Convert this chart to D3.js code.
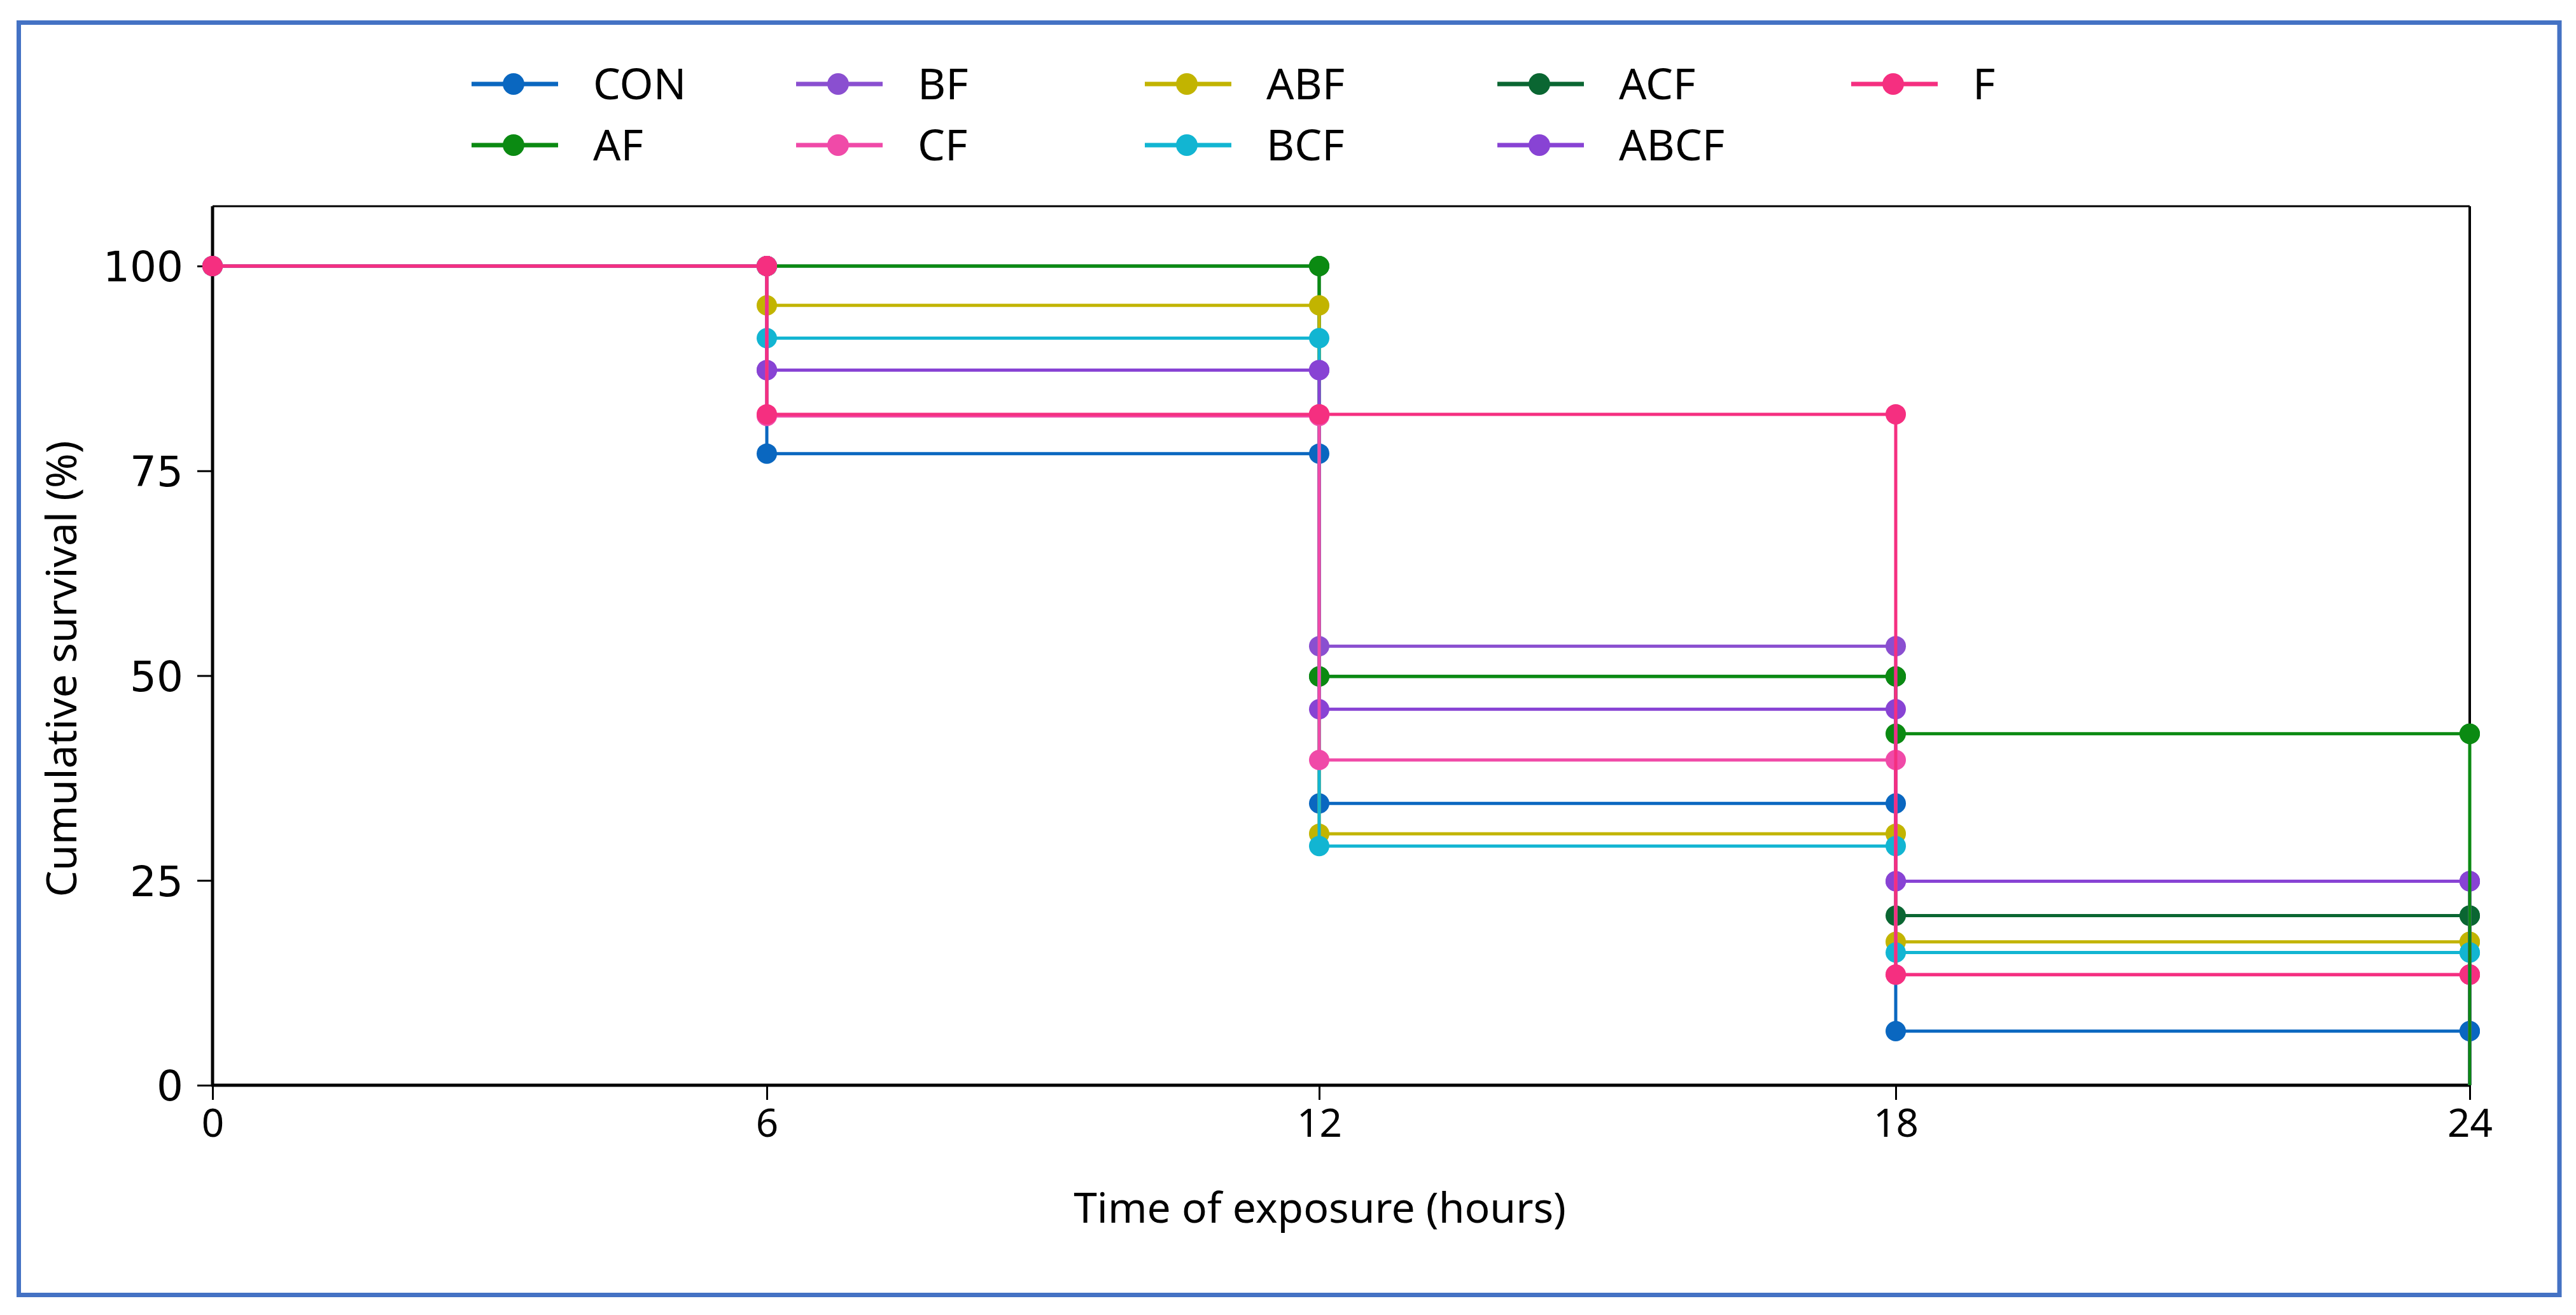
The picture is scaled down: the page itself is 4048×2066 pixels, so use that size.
<!DOCTYPE html>
<html>
<head>
<meta charset="utf-8">
<script src="https://cdn.jsdelivr.net/npm/d3@7"></script>
<style>
  body { margin: 0; background: #fff; }
  svg { display: block; }
</style>
</head>
<body>
<svg id="chart"></svg>
<script>
// sampling times (hours) and axis ticks
let times = [0, 6, 12, 18, 24];
let xTicks = [0, 6, 12, 18, 24];
let yTicks = [0, 25, 50, 75, 100];

// treatments in legend order, with their colours
let groups = ["CON", "AF", "BF", "CF", "ABF", "BCF", "ACF", "ABCF", "F"];
let colors = ["#0a67c0", "#0b8a12", "#8a4fd0", "#f04aa8", "#c2b400", "#12b5d2", "#0a6632", "#8843d4", "#f52f80"];

// cumulative survival (%) at each time
let CON  = [100, 77.1, 34.4, 6.6, 6.6];
let AF   = [100, 100, 49.9, 42.9, 42.9];
let BF   = [100, 87.3, 53.6, 24.9, 24.9];
let CF   = [100, 81.7, 39.7, 13.5, 13.5];
let ABF  = [100, 95.2, 30.7, 17.5, 17.5];
let BCF  = [100, 91.2, 29.2, 16.2, 16.2];
let ACF  = [100, 100, 49.9, 20.7, 20.7];
let ABCF = [100, 87.3, 45.9, 24.9, 24.9];
let F    = [100, 81.9, 81.9, 13.5, 13.5];

let values = { CON, AF, BF, CF, ABF, BCF, ACF, ABCF, F };
// which lines end up on top in the figure
let drawOrder = ["ACF", "CON", "AF", "BF", "ABF", "BCF", "ABCF", "CF", "F"];

let width = 4048, height = 2066;
let plotLeft = 334, plotRight = 3881, plotTop = 324, plotBottom = 1705;

let svg = d3.select("#chart").attr("width", width).attr("height", height);

svg.append("rect")
  .attr("x", 29.5).attr("y", 35.5)
  .attr("width", 3992.5).attr("height", 1999)
  .attr("fill", "#fff")
  .attr("stroke", "#4472c4")
  .attr("stroke-width", 7);

// the figure's hour ticks are not evenly spaced, so map them piecewise
let x = d3.scaleLinear()
  .domain(xTicks)
  .range([plotLeft, 1205, 2073, 2979, plotRight]);

let y = d3.scaleLinear()
  .domain([0, 107.3])
  .range([plotBottom, plotTop]);

let color = d3.scaleOrdinal().domain(groups).range(colors);

// axes
let xAxis = svg.append("g")
  .attr("transform", "translate(0," + plotBottom + ")")
  .call(d3.axisBottom(x).tickValues(xTicks).tickSize(23).tickPadding(14).tickFormat(d3.format("d")));
xAxis.select(".domain").remove();
xAxis.selectAll(".tick line").attr("stroke", "#000").attr("stroke-width", 3);
xAxis.selectAll(".tick text")
  .attr("fill", "#000")
  .style("font-family", "'Noto Sans', sans-serif")
  .style("font-size", "62px");

let yAxis = svg.append("g")
  .attr("transform", "translate(" + plotLeft + ",0)")
  .call(d3.axisLeft(y).tickValues(yTicks).tickSize(24).tickPadding(22));
yAxis.select(".domain").remove();
yAxis.selectAll(".tick line").attr("stroke", "#000").attr("stroke-width", 3);
yAxis.selectAll(".tick text")
  .attr("fill", "#000")
  .attr("dy", "0.36em")
  .style("font-family", "'DejaVu Sans', sans-serif")
  .style("font-size", "66px");

// frame (under the lines, as in the figure)
let frame = svg.append("g").attr("fill", "none").attr("stroke", "#000");
frame.append("line").attr("x1", plotLeft).attr("x2", plotRight).attr("y1", plotTop).attr("y2", plotTop).attr("stroke-width", 3);
frame.append("line").attr("x1", plotRight).attr("x2", plotRight).attr("y1", plotTop).attr("y2", plotBottom).attr("stroke-width", 4);
frame.append("line").attr("x1", plotLeft).attr("x2", plotLeft).attr("y1", plotTop).attr("y2", plotBottom + 2).attr("stroke-width", 5);
frame.append("line").attr("x1", plotLeft - 2).attr("x2", plotRight + 2).attr("y1", plotBottom).attr("y2", plotBottom).attr("stroke-width", 5);

// series lines
let line = d3.line()
  .curve(d3.curveStepAfter)
  .x(d => x(d.t))
  .y(d => y(d.v));

let plot = svg.append("g").attr("id", "plot");
let drops = plot.append("g");
let lastT = times[times.length - 1];

drawOrder.forEach(function(name) {
  let vals = values[name];
  let pts = times.map((t, i) => ({ t: t, v: vals[i] }));

  plot.append("path")
    .attr("d", line(pts))
    .attr("fill", "none")
    .attr("stroke", color(name))
    .attr("stroke-width", 5);

  // a marker where each level starts and where it ends
  let marks = [];
  times.forEach(function(t, i) {
    if (i > 0) marks.push({ t: t, v: vals[i - 1] });
    marks.push({ t: t, v: vals[i] });
  });

  plot.append("g").selectAll("circle")
    .data(marks)
    .enter().append("circle")
    .attr("cx", d => x(d.t))
    .attr("cy", d => y(d.v))
    .attr("r", 16)
    .attr("fill", color(name));
});

// survival drops to zero at the end of the exposure; longest drop on top
let ends = groups.map(name => ({ name: name, v: values[name][times.length - 1] }))
  .sort((a, b) => a.v - b.v);

plot.append("g").selectAll("line")
  .data(ends)
  .enter().append("line")
  .attr("x1", x(lastT)).attr("x2", x(lastT))
  .attr("y1", d => y(d.v) + 16)
  .attr("y2", y(0))
  .attr("stroke", d => color(d.name))
  .attr("stroke-width", 5);

// axis titles
svg.append("text")
  .attr("x", 2074).attr("y", 1921)
  .attr("text-anchor", "middle")
  .style("font-family", "'Noto Sans', sans-serif")
  .style("font-size", "66px")
  .text("Time of exposure (hours)");

svg.append("text")
  .attr("transform", "translate(120,1051) rotate(-90)")
  .attr("text-anchor", "middle")
  .style("font-family", "'Noto Sans', sans-serif")
  .style("font-size", "66px")
  .text("Cumulative survival (%)");

// legend: 5 columns, filled column by column
let legendCols = [807, 1317, 1865, 2419, 2975];
let legendRows = [132, 228];

let legend = svg.append("g").selectAll("g")
  .data(groups)
  .enter().append("g")
  .attr("transform", (d, i) => "translate(" + legendCols[Math.floor(i / 2)] + "," + legendRows[i % 2] + ")");

legend.append("line")
  .attr("x1", -66).attr("x2", 70)
  .attr("stroke", d => color(d))
  .attr("stroke-width", 7);

legend.append("circle")
  .attr("r", 17)
  .attr("fill", d => color(d));

legend.append("text")
  .attr("x", 125).attr("y", 24)
  .style("font-family", "'Noto Sans', sans-serif")
  .style("font-size", "68px")
  .text(d => d);
</script>
</body>
</html>
